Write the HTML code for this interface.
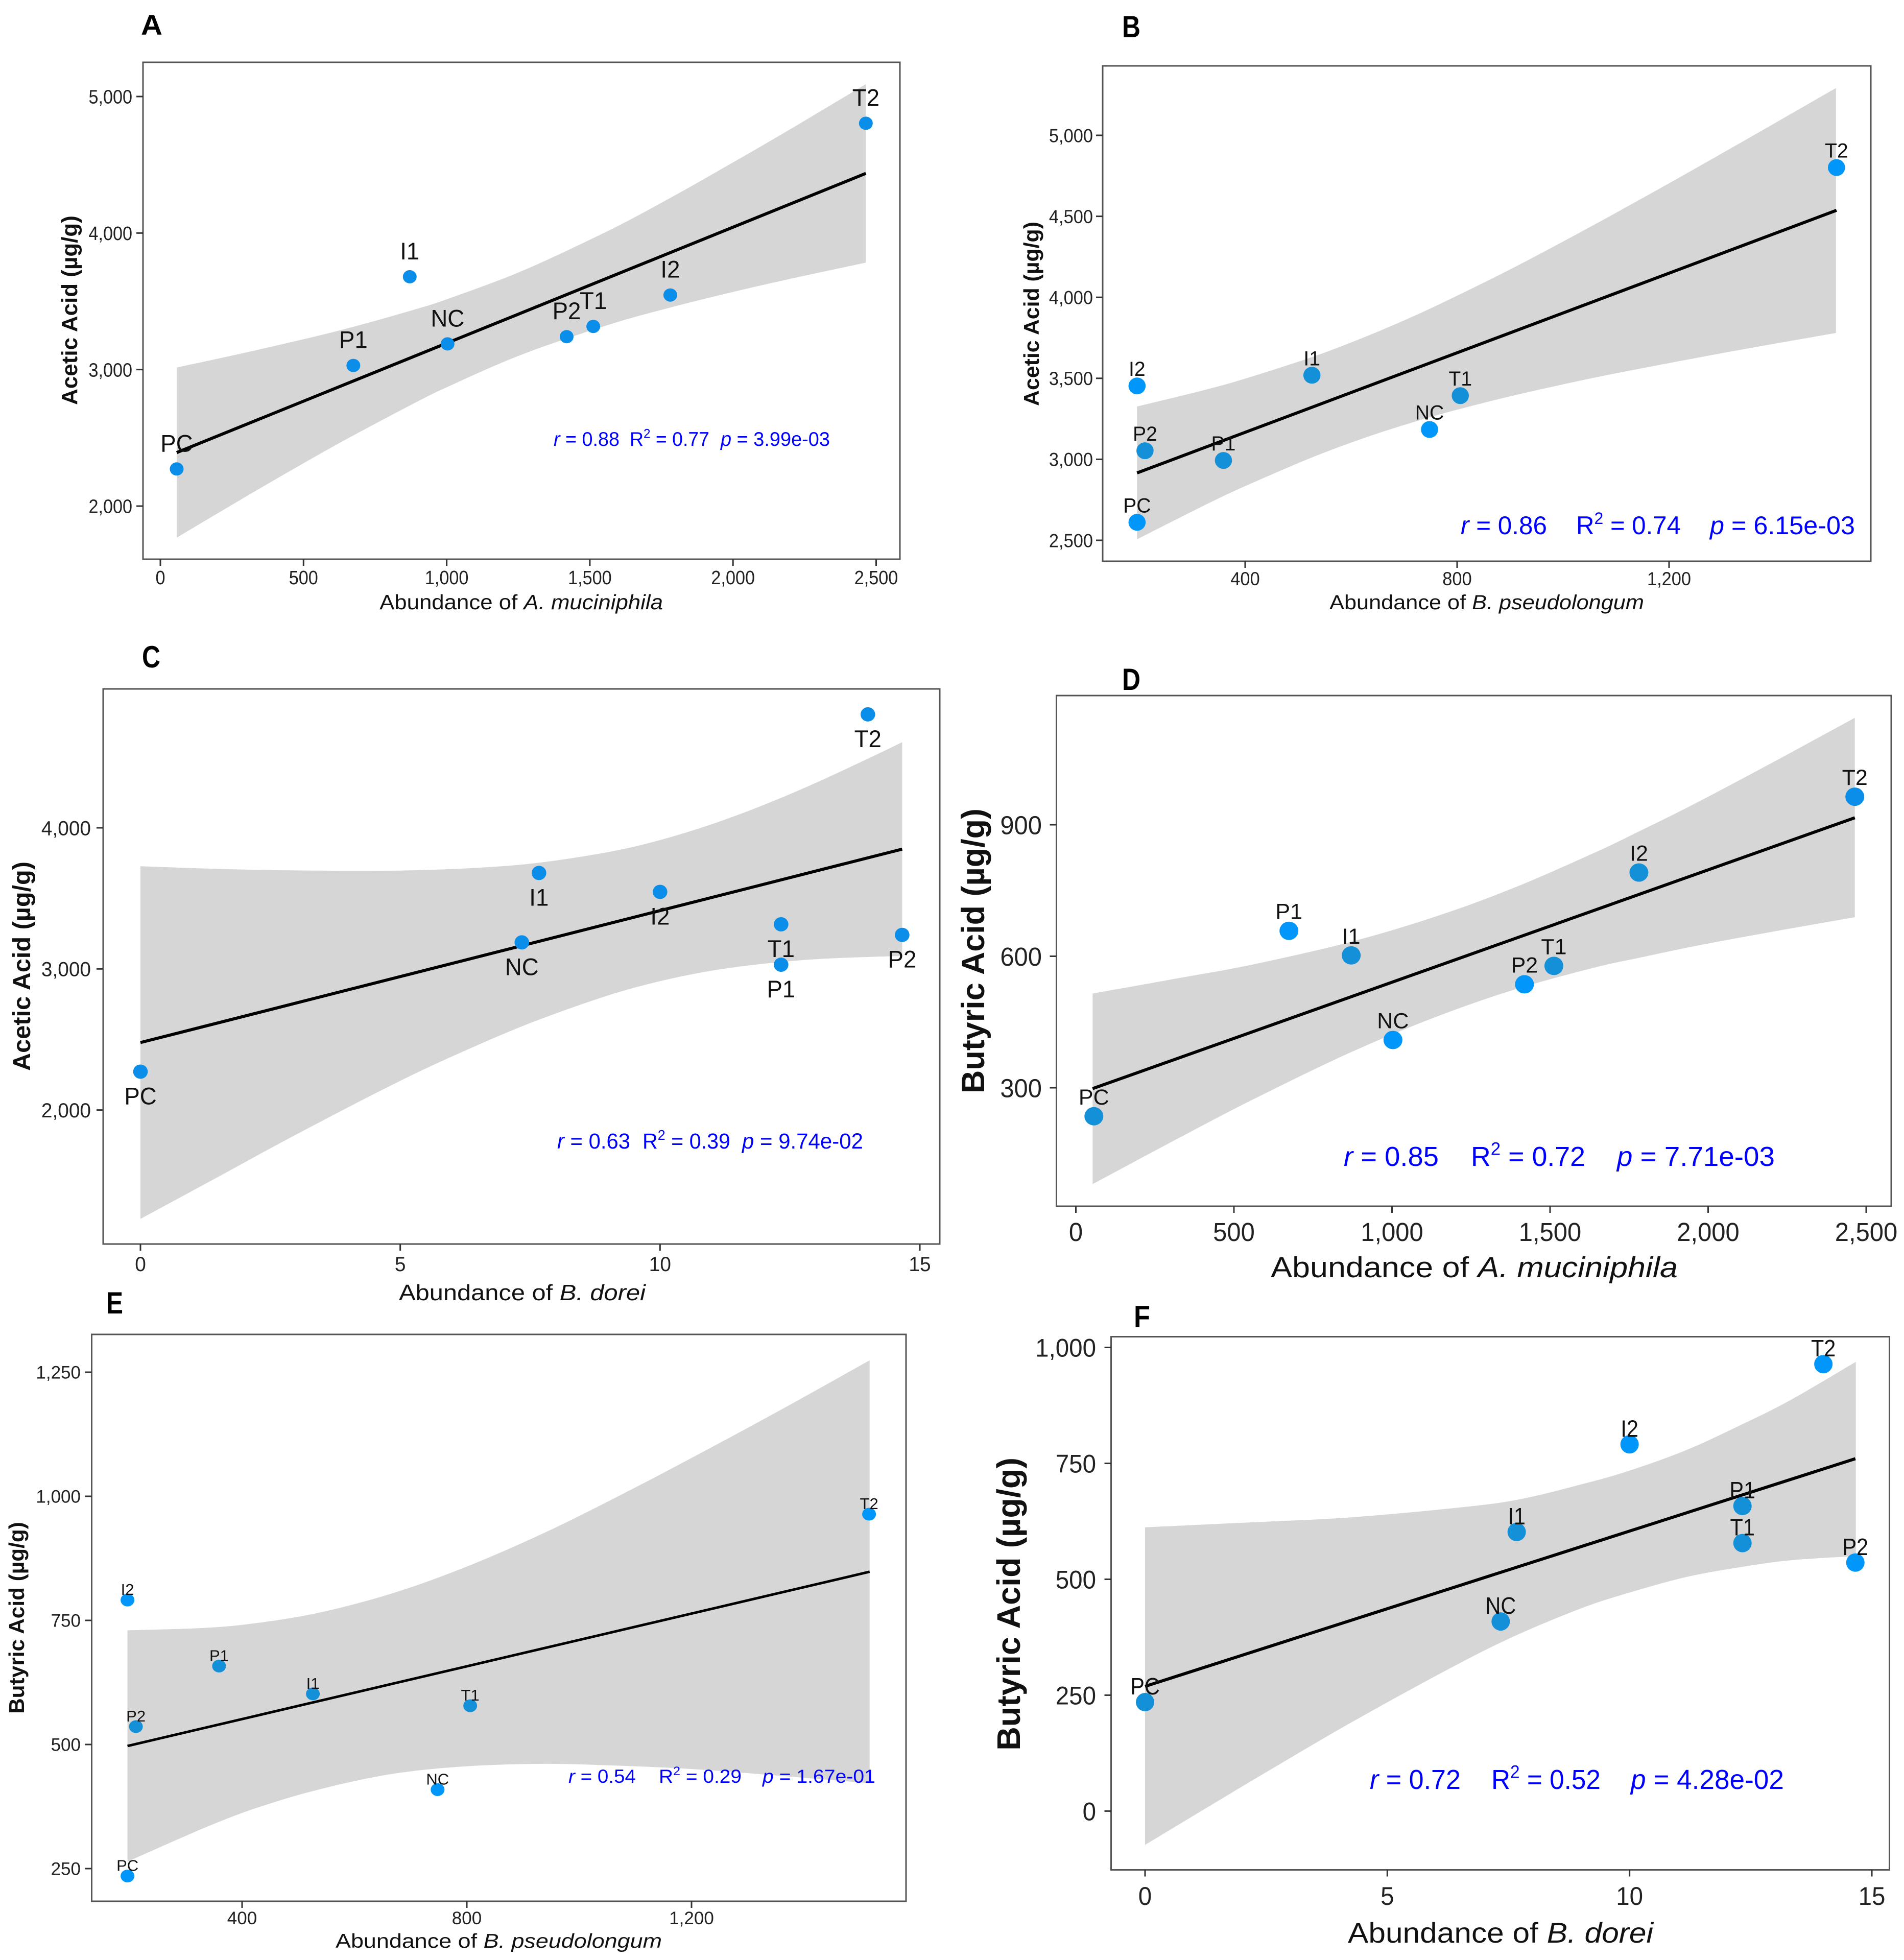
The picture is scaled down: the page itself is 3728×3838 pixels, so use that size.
<!DOCTYPE html>
<html lang="en">
<head>
<meta charset="utf-8">
<title>Correlation of bacterial abundance with acetic and butyric acid</title>
<style>
html,body{margin:0;padding:0;background:#fff;width:3728px;height:3838px;overflow:hidden}
svg{display:block}
text{font-family:"Liberation Sans",sans-serif}
</style>
</head>
<body>
<svg id="figure" xmlns="http://www.w3.org/2000/svg" width="3728" height="3838" viewBox="0 0 3728 3838">
<rect x="0" y="0" width="3728" height="3838" fill="#ffffff"/>
</svg>
<script>
// ---- shared sample data (order: PC, P1, I1, NC, P2, T1, I2, T2) ----
const sampleLabels = ['PC','P1','I1','NC','P2','T1','I2','T2'];
const abundanceMuciniphila = [57,674,871,1003,1419,1512,1781,2464];
const abundancePseudolongum = [196,359,526,748,211,806,196,1516];
const abundanceDorei = [0,12.33,7.67,7.34,14.66,12.33,10,14];
const aceticAcid = [2272,3030,3680,3188,3241,3316,3546,4804];
const aceticAcidB = [2611,2993,3519,3184,3053,3393,3453,4801];
const butyricAcid = [235,658,602,409,536,578,791,964];

// ---- tick labels ----
const xTicksMuciniphila = [0,500,1000,1500,2000,2500];
const xTicksPseudolongum = [400,800,1200];
const xTicksDorei = [0,5,10,15];
const yTicksA = [2000,3000,4000,5000];
const yTicksB = [2500,3000,3500,4000,4500,5000];
const yTicksC = [2000,3000,4000];
const yTicksD = [300,600,900];
const yTicksE = [250,500,750,1000,1250];
const yTicksF = [0,250,500,750,1000];

// ---- regression fits (end points in data units) ----
const fitXA = [57,2464];
const fitYA = [2392,4437];
const fitXB = [196,1516];
const fitYB = [2916,4537];
const fitXC = [0,14.66];
const fitYC = [2478,3849];
const fitXD = [53,2464];
const fitYD = [298,916];
const fitXE = [196,1517];
const fitYE = [497,848];
const fitXF = [0,14.66];
const fitYF = [269,760];

// ---- confidence bands (data units) ----
const bandXA = [57,288,500,670,882,1003,1264,1561,1773,1985,2197,2464];
const bandHighA = [3015,3120,3222,3311,3436,3517,3723,4013,4248,4499,4757,5091];
const bandLowA = [1769,2056,2314,2513,2748,2873,3111,3325,3450,3561,3663,3783];
const bandXB = [196,320,399,525,625,714,800,920,1058,1205,1352,1515];
const bandHighB = [3326,3425,3497,3630,3754,3878,4010,4206,4447,4713,4986,5292];
const bandLowB = [2506,2711,2833,3010,3132,3226,3306,3404,3503,3597,3686,3780];
const bandXC = [0,1.48,2.99,4.99,6.49,7.67,9,10,11,12,13,14.19,14.66];
const bandHighC = [3728,3709,3698,3697,3717,3753,3828,3913,4026,4163,4319,4523,4607];
const bandLowC = [1228,1523,1825,2205,2460,2640,2812,2913,2988,3037,3069,3087,3091];
const bandXD = [53,317,565,870,1144,1392,1640,1779,1971,2219,2464];
const bandHighD = [515,549,582,633,692,758,836,884,953,1048,1144];
const bandLowD = [80,182,275,381,463,525,574,596,625,658,689];
const bandXE = [196,335,428,539,669,799,939,1078,1208,1357,1517];
const bandHighE = [730,735,745,766,805,858,927,1005,1082,1173,1274];
const bandLowE = [264,333,373,410,441,456,461,457,450,437,422];
const bandXF = [0,2.02,4.17,6.33,7.66,9.02,9.99,11.18,12.34,13.33,14.67];
const bandHighF = [612,622,633,653,671,705,734,779,835,887,969];
const bandLowF = [-73,54,186,310,379,438,471,505,527,541,550];

// ---- statistics text ----
const statsA = ['0.88','0.77','3.99e-03'];
const statsB = ['0.86','0.74','6.15e-03'];
const statsC = ['0.63','0.39','9.74e-02'];
const statsD = ['0.85','0.72','7.71e-03'];
const statsE = ['0.54','0.29','1.67e-01'];
const statsF = ['0.72','0.52','4.28e-02'];

const NS = 'http://www.w3.org/2000/svg';
const root = document.getElementById('figure');

const BR = '#0096fa';
const DM = '#1490d8';
const MD = '#0a8eea';

function make(parent, tag, name, attrs) {
  const el = document.createElementNS(NS, tag);
  
  
  for (const k in attrs) el.setAttribute(k, attrs[k]);
  parent.appendChild(el);
  return el;
}

function linear(d0, d1, p0, p1) {
  return function (v) { return p0 + (v - d0) / (d1 - d0) * (p1 - p0); };
}

// Catmull-Rom segments through an ordered list of [x,y] pixel pairs
function smoothSegments(pts) {
  let d = '';
  for (let i = 0; i < pts.length - 1; i++) {
    const p0 = pts[Math.max(i - 1, 0)];
    const p1 = pts[i];
    const p2 = pts[i + 1];
    const p3 = pts[Math.min(i + 2, pts.length - 1)];
    const c1x = p1[0] + (p2[0] - p0[0]) / 6;
    const c1y = p1[1] + (p2[1] - p0[1]) / 6;
    const c2x = p2[0] - (p3[0] - p1[0]) / 6;
    const c2y = p2[1] - (p3[1] - p1[1]) / 6;
    d += ' C' + c1x.toFixed(1) + ' ' + c1y.toFixed(1) + ' ' + c2x.toFixed(1) + ' ' + c2y.toFixed(1) + ' ' + p2[0].toFixed(1) + ' ' + p2[1].toFixed(1);
  }
  return d;
}

function addSpan(textEl, str, style) {
  const s = document.createElementNS(NS, 'tspan');
  s.textContent = str;
  if (style) for (const k in style) s.setAttribute(k, style[k]);
  textEl.appendChild(s);
  return s;
}

// place text; scale horizontally either by a factor or to a target width
function place(el, x, y, opt) {
  let sx = opt.sx || 1;
  if (opt.width) sx = opt.width / el.getComputedTextLength();
  const rot = opt.rotate ? ' rotate(' + opt.rotate + ')' : '';
  el.setAttribute('transform', 'translate(' + x + ',' + y + ')' + rot + ' scale(' + sx + ',1)');
}

function fmt(v) { return v.toLocaleString('en-US'); }

function drawPanel(p) {
  const g = make(root, 'g', 'panel-' + p.letter.toLowerCase(), {});
  const sx = linear(p.xCal[0], p.xCal[1], p.xCal[2], p.xCal[3]);
  const sy = linear(p.yCal[0], p.yCal[1], p.yCal[2], p.yCal[3]);

  // panel letter
  const letter = make(g, 'text', 'panel-letter-' + p.letter.toLowerCase(), {
    'font-size': p.letterBox[3], 'font-weight': 'bold', fill: '#000', 'text-anchor': 'middle'
  });
  letter.textContent = p.letter;
  place(letter, (p.letterBox[0] + p.letterBox[1]) / 2, p.letterBox[2], { width: p.letterBox[1] - p.letterBox[0] });

  // confidence band
  const high = p.bandX.map(function (x, i) { return [sx(x), sy(p.bandHigh[i])]; });
  const low = p.bandX.map(function (x, i) { return [sx(x), sy(p.bandLow[i])]; }).reverse();
  const d = 'M' + high[0][0].toFixed(1) + ' ' + high[0][1].toFixed(1) + smoothSegments(high) +
    ' L' + low[0][0].toFixed(1) + ' ' + low[0][1].toFixed(1) + smoothSegments(low) + ' Z';
  make(g, 'path', 'confidence-band', { d: d, fill: '#d6d6d6' });

  // fit line
  make(g, 'line', 'regression-line', {
    x1: sx(p.fitX[0]), y1: sy(p.fitY[0]), x2: sx(p.fitX[1]), y2: sy(p.fitY[1]),
    stroke: '#000', 'stroke-width': p.lineW
  });

  // points
  sampleLabels.forEach(function (lab, i) {
    make(g, 'ellipse', 'point-' + lab.toLowerCase(), {
      cx: sx(p.xData[i]), cy: sy(p.yData[i]), rx: p.rx, ry: p.ry, fill: p.tones[i]
    });
  });

  // point labels
  sampleLabels.forEach(function (lab, i) {
    const t = make(g, 'text', 'point-label-' + lab.toLowerCase(), {
      'font-size': p.labelSize, fill: '#111', 'text-anchor': 'middle'
    });
    t.textContent = lab;
    place(t, sx(p.xData[i]), sy(p.yData[i]) + p.labelDy, { sx: p.labelSx });
  });

  // frame
  make(g, 'rect', 'plot-frame', {
    x: p.box[0], y: p.box[2], width: p.box[1] - p.box[0], height: p.box[3] - p.box[2],
    fill: 'none', stroke: '#555', 'stroke-width': 3
  });

  // x ticks
  p.xTicks.forEach(function (v) {
    make(g, 'line', 'x-tick-mark', {
      x1: sx(v), x2: sx(v), y1: p.box[3], y2: p.box[3] + 13, stroke: '#333', 'stroke-width': 3
    });
    const t = make(g, 'text', 'x-tick-label', {
      'font-size': p.tickSize, fill: '#222', 'text-anchor': 'middle'
    });
    t.textContent = fmt(v);
    place(t, sx(v), p.xTickBase, { sx: p.tickSx });
  });

  // y ticks
  p.yTicks.forEach(function (v) {
    make(g, 'line', 'y-tick-mark', {
      x1: p.box[0] - 13, x2: p.box[0], y1: sy(v), y2: sy(v), stroke: '#333', 'stroke-width': 3
    });
    const t = make(g, 'text', 'y-tick-label', {
      'font-size': p.tickSize, fill: '#222', 'text-anchor': 'end'
    });
    t.textContent = fmt(v);
    place(t, p.yTickRight, sy(v) + p.tickSize * 0.36, { sx: p.tickSx });
  });

  // x title
  const xt = make(g, 'text', 'x-axis-title', {
    'font-size': p.xTitle.size, fill: '#111', 'text-anchor': 'middle'
  });
  addSpan(xt, 'Abundance of ');
  addSpan(xt, p.xTitle.species, { 'font-style': 'italic' });
  place(xt, (p.xTitle.from + p.xTitle.to) / 2, p.xTitle.base, { width: p.xTitle.to - p.xTitle.from });

  // y title
  const yt = make(g, 'text', 'y-axis-title', {
    'font-size': p.yTitle.size, 'font-weight': 'bold', fill: '#111', 'text-anchor': 'middle'
  });
  yt.textContent = p.yTitle.text;
  place(yt, p.yTitle.base, (p.yTitle.from + p.yTitle.to) / 2, { rotate: -90, width: p.yTitle.to - p.yTitle.from });

  // statistics
  const st = p.statPos;
  const r = make(g, 'text', 'stat-r', { 'font-size': st.size, fill: '#0000ff' });
  addSpan(r, 'r', { 'font-style': 'italic' });
  addSpan(r, ' = ' + p.stats[0]);
  place(r, st.r[0], st.base, { width: st.r[1] - st.r[0] });

  const r2 = make(g, 'text', 'stat-r-squared', { 'font-size': st.size, fill: '#0000ff' });
  addSpan(r2, 'R');
  addSpan(r2, '2', { 'font-size': st.size * 0.65, dy: -st.size * 0.4 });
  addSpan(r2, ' = ' + p.stats[1], { dy: st.size * 0.4 });
  place(r2, st.r2[0], st.base, { width: st.r2[1] - st.r2[0] });

  const pv = make(g, 'text', 'stat-p-value', { 'font-size': st.size, fill: '#0000ff' });
  addSpan(pv, 'p', { 'font-style': 'italic' });
  addSpan(pv, ' = ' + p.stats[2]);
  place(pv, st.p[0], st.base, { width: st.p[1] - st.p[0] });
}

drawPanel({
  letter: 'A', letterBox: [276,318,68,56],
  box: [280,1762,122,1095],
  xCal: [0,2500,314,1715.5], yCal: [2000,5000,991,189],
  xData: abundanceMuciniphila, yData: aceticAcid,
  tones: [MD,MD,MD,MD,MD,MD,MD,MD],
  bandX: bandXA, bandHigh: bandHighA, bandLow: bandLowA, fitX: fitXA, fitY: fitYA,
  lineW: 6, rx: 13.5, ry: 13,
  labelSize: 47, labelSx: 0.97, labelDy: -34,
  xTicks: xTicksMuciniphila, yTicks: yTicksA,
  tickSize: 38, tickSx: 0.9, xTickBase: 1144, yTickRight: 259,
  xTitle: { species: 'A. muciniphila', size: 41, from: 743, to: 1298, base: 1193 },
  yTitle: { text: 'Acetic Acid (µg/g)', size: 44, base: 151, from: 422, to: 793 },
  stats: statsA,
  statPos: { size: 39, base: 873, r: [1084,1213], r2: [1233,1389], p: [1411,1625] }
});

drawPanel({
  letter: 'B', letterBox: [2197,2233,73,60],
  box: [2159,3663,129,1099],
  xCal: [400,1200,2438,3268], yCal: [2500,5000,1058,265],
  xData: abundancePseudolongum, yData: aceticAcidB,
  tones: [BR,DM,DM,BR,DM,DM,BR,BR],
  bandX: bandXB, bandHigh: bandHighB, bandLow: bandLowB, fitX: fitXB, fitY: fitYB,
  lineW: 6, rx: 16.8, ry: 16.5,
  labelSize: 40, labelSx: 0.98, labelDy: -19.5,
  xTicks: xTicksPseudolongum, yTicks: yTicksB,
  tickSize: 37, tickSx: 0.93, xTickBase: 1146, yTickRight: 2140,
  xTitle: { species: 'B. pseudolongum', size: 40, from: 2603, to: 3219, base: 1193 },
  yTitle: { text: 'Acetic Acid (µg/g)', size: 42, base: 2034, from: 434, to: 795 },
  stats: statsB,
  statPos: { size: 50, base: 1046, r: [2860,3029], r2: [3086,3291], p: [3348,3632] }
});

drawPanel({
  letter: 'C', letterBox: [278,314,1307,60],
  box: [202,1840,1349,2436],
  xCal: [0,15,275,1801], yCal: [2000,4000,2173.6,1621],
  xData: abundanceDorei, yData: aceticAcid,
  tones: [MD,MD,MD,MD,MD,MD,MD,MD],
  bandX: bandXC, bandHigh: bandHighC, bandLow: bandLowC, fitX: fitXC, fitY: fitYC,
  lineW: 6, rx: 14.3, ry: 14,
  labelSize: 47, labelSx: 0.97, labelDy: 64,
  xTicks: xTicksDorei, yTicks: yTicksC,
  tickSize: 40, tickSx: 0.97, xTickBase: 2489, yTickRight: 178,
  xTitle: { species: 'B. dorei', size: 44, from: 781, to: 1264, base: 2546 },
  yTitle: { text: 'Acetic Acid (µg/g)', size: 48, base: 59, from: 1687, to: 2097 },
  stats: statsC,
  statPos: { size: 43, base: 2249, r: [1091,1234], r2: [1258,1430], p: [1453,1690] }
});

drawPanel({
  letter: 'D', letterBox: [2197,2233,1351,60],
  box: [2068.5,3703,1362,2362],
  xCal: [0,2500,2106.5,3654], yCal: [300,900,2130,1615],
  xData: abundanceMuciniphila, yData: butyricAcid,
  tones: [DM,BR,DM,BR,BR,DM,DM,MD],
  bandX: bandXD, bandHigh: bandHighD, bandLow: bandLowD, fitX: fitXD, fitY: fitYD,
  lineW: 6, rx: 18.5, ry: 18,
  labelSize: 43, labelSx: 1, labelDy: -23,
  xTicks: xTicksMuciniphila, yTicks: yTicksD,
  tickSize: 51, tickSx: 0.96, xTickBase: 2430, yTickRight: 2040,
  xTitle: { species: 'A. muciniphila', size: 57, from: 2488, to: 3285, base: 2501 },
  yTitle: { text: 'Butyric Acid (µg/g)', size: 63, base: 1927, from: 1583, to: 2141 },
  stats: statsD,
  statPos: { size: 54, base: 2283, r: [2631,2817], r2: [2880,3104], p: [3166,3475] }
});

drawPanel({
  letter: 'E', letterBox: [208,241,2572,60],
  box: [179.5,1774,2613,3723],
  xCal: [400,1200,474,1354], yCal: [250,1250,3659,2687],
  xData: abundancePseudolongum, yData: butyricAcid,
  tones: [BR,DM,DM,BR,DM,DM,BR,BR],
  bandX: bandXE, bandHigh: bandHighE, bandLow: bandLowE, fitX: fitXE, fitY: fitYE,
  lineW: 5, rx: 13.5, ry: 12.5,
  labelSize: 31, labelSx: 1, labelDy: -10,
  xTicks: xTicksPseudolongum, yTicks: yTicksE,
  tickSize: 35, tickSx: 1, xTickBase: 3768, yTickRight: 158,
  xTitle: { species: 'B. pseudolongum', size: 39, from: 657, to: 1296, base: 3814 },
  yTitle: { text: 'Butyric Acid (µg/g)', size: 42, base: 47, from: 2980, to: 3356 },
  stats: statsE,
  statPos: { size: 37, base: 3491, r: [1113,1245], r2: [1290,1452], p: [1493,1714] }
});

drawPanel({
  letter: 'F', letterBox: [2220,2252,2599,60],
  box: [2175.5,3699.5,2617.5,3661.5],
  xCal: [0,15,2242,3665], yCal: [0,1000,3546.4,2638.5],
  xData: abundanceDorei, yData: butyricAcid,
  tones: [DM,DM,DM,DM,BR,DM,BR,BR],
  bandX: bandXF, bandHigh: bandHighF, bandLow: bandLowF, fitX: fitXF, fitY: fitYF,
  lineW: 6, rx: 18, ry: 18,
  labelSize: 46, labelSx: 0.9, labelDy: -15,
  xTicks: xTicksDorei, yTicks: yTicksF,
  tickSize: 50, tickSx: 0.95, xTickBase: 3730, yTickRight: 2146,
  xTitle: { species: 'B. dorei', size: 56, from: 2639, to: 3237, base: 3804 },
  yTitle: { text: 'Butyric Acid (µg/g)', size: 64, base: 1997, from: 2854, to: 3428 },
  stats: statsF,
  statPos: { size: 54, base: 3503, r: [2682,2860], r2: [2920,3134], p: [3193,3493] }
});
</script>
</body>
</html>
